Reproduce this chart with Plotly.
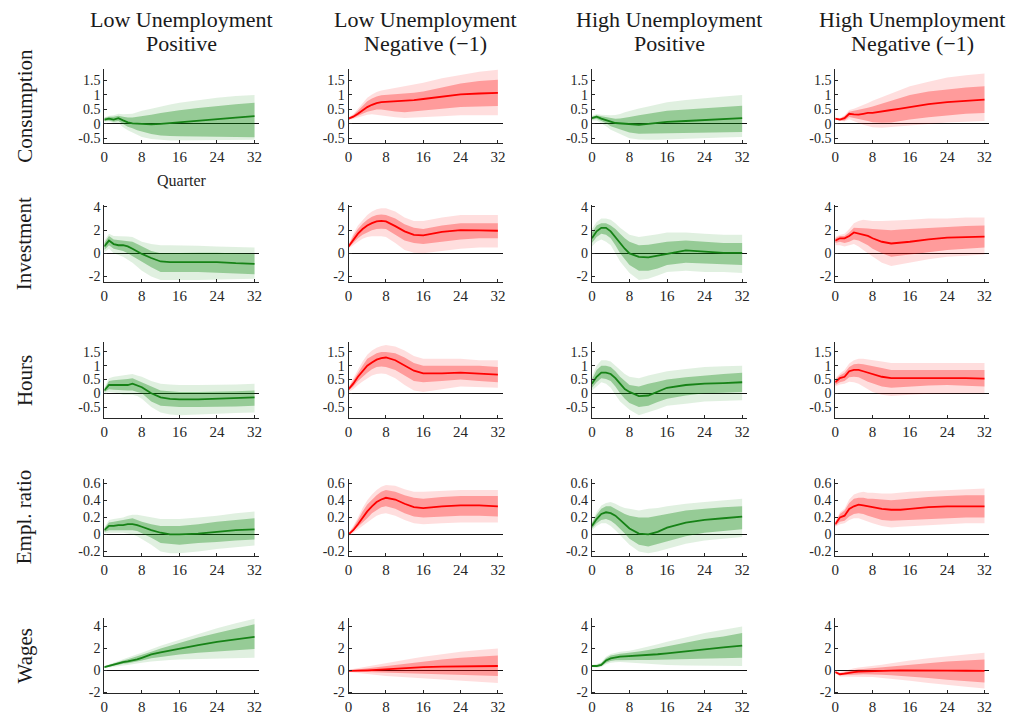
import plotly.graph_objects as go

# Impulse responses over a 32-quarter horizon: median, 68% and 90% bands
quarters = [0, 1, 2, 3, 4, 5, 6, 7, 8, 10, 12, 14, 16, 20, 24, 28, 32]

col_title_top = ["Low Unemployment", "Low Unemployment", "High Unemployment", "High Unemployment"]
col_title_bottom = ["Positive", "Negative (\u22121)", "Positive", "Negative (\u22121)"]
row_names = ["Consumption", "Investment", "Hours", "Empl. ratio", "Wages"]

x_ticks = [0, 8, 16, 24, 32]
y_ticks = [
    [-0.5, 0, 0.5, 1, 1.5],
    [-2, 0, 2, 4],
    [-0.5, 0, 0.5, 1, 1.5],
    [-0.2, 0, 0.2, 0.4, 0.6],
    [-2, 0, 2, 4],
]
y_tick_text = [
    ["-0.5", "0", "0.5", "1", "1.5"],
    ["-2", "0", "2", "4"],
    ["-0.5", "0", "0.5", "1", "1.5"],
    ["-0.2", "0", "0.2", "0.4", "0.6"],
    ["-2", "0", "2", "4"],
]
y_ranges = [[-0.65, 1.9], [-2.5, 4.2], [-0.9, 1.85], [-0.25, 0.65], [-2.1, 4.8]]

# each panel: [median, upper 68%, lower 68%, upper 90%, lower 90%]
cons_lp = [
    [0.15, 0.18, 0.15, 0.2, 0.12, 0.05, 0.02, 0.01, 0.0, -0.02, 0.0, 0.03, 0.05, 0.12, 0.17, 0.22, 0.27],
    [0.2, 0.25, 0.25, 0.28, 0.25, 0.22, 0.22, 0.24, 0.27, 0.32, 0.38, 0.43, 0.47, 0.55, 0.62, 0.68, 0.73],
    [0.1, 0.12, 0.07, 0.1, 0.0, -0.1, -0.15, -0.22, -0.28, -0.35, -0.4, -0.42, -0.43, -0.44, -0.45, -0.45, -0.46],
    [0.22, 0.28, 0.3, 0.35, 0.33, 0.33, 0.35, 0.4, 0.45, 0.52, 0.6, 0.67, 0.73, 0.82, 0.9, 0.96, 1.0],
    [0.07, 0.08, 0.03, 0.03, -0.12, -0.22, -0.3, -0.38, -0.45, -0.52, -0.55, -0.57, -0.58, -0.58, -0.57, -0.56, -0.55],
]
cons_ln = [
    [0.18, 0.25, 0.35, 0.48, 0.58, 0.66, 0.72, 0.75, 0.76, 0.77, 0.78, 0.82, 0.86, 0.95, 1.02, 1.05, 1.07],
    [0.21, 0.3, 0.45, 0.62, 0.78, 0.88, 0.95, 0.99, 1.0, 1.03, 1.05, 1.08, 1.12, 1.27, 1.4, 1.48, 1.53],
    [0.15, 0.2, 0.27, 0.35, 0.42, 0.47, 0.5, 0.5, 0.48, 0.43, 0.4, 0.42, 0.45, 0.52, 0.58, 0.61, 0.62],
    [0.23, 0.34, 0.52, 0.72, 0.9, 1.02, 1.1, 1.15, 1.18, 1.23, 1.28, 1.35, 1.42, 1.58, 1.7, 1.8, 1.87],
    [0.13, 0.17, 0.22, 0.27, 0.32, 0.33, 0.32, 0.3, 0.28, 0.23, 0.2, 0.2, 0.22, 0.26, 0.3, 0.3, 0.3],
]
cons_hp = [
    [0.2, 0.25, 0.18, 0.12, 0.08, 0.03, 0.02, 0.0, -0.02, -0.03, 0.0, 0.04, 0.07, 0.1, 0.13, 0.16, 0.2],
    [0.25, 0.3, 0.26, 0.23, 0.2, 0.18, 0.19, 0.21, 0.24, 0.3, 0.35, 0.4, 0.45, 0.5, 0.55, 0.59, 0.63],
    [0.15, 0.18, 0.1, 0.02, -0.08, -0.14, -0.2, -0.25, -0.3, -0.34, -0.35, -0.34, -0.33, -0.31, -0.3, -0.29, -0.28],
    [0.28, 0.34, 0.32, 0.3, 0.3, 0.31, 0.34, 0.4, 0.45, 0.53, 0.6, 0.68, 0.75, 0.83, 0.9, 0.95, 1.0],
    [0.12, 0.12, 0.03, -0.08, -0.2, -0.28, -0.36, -0.43, -0.5, -0.54, -0.55, -0.55, -0.55, -0.52, -0.5, -0.47, -0.45],
]
cons_hn = [
    [0.18, 0.15, 0.2, 0.35, 0.33, 0.32, 0.35, 0.38, 0.38, 0.42, 0.48, 0.53, 0.58, 0.68, 0.75, 0.8, 0.84],
    [0.2, 0.18, 0.26, 0.42, 0.45, 0.48, 0.52, 0.56, 0.6, 0.7, 0.8, 0.9, 1.0, 1.12, 1.2, 1.26, 1.3],
    [0.16, 0.12, 0.12, 0.24, 0.2, 0.16, 0.14, 0.1, 0.06, 0.04, 0.05, 0.1, 0.15, 0.23, 0.3, 0.35, 0.38],
    [0.22, 0.2, 0.3, 0.48, 0.52, 0.58, 0.65, 0.72, 0.8, 0.93, 1.05, 1.18, 1.3, 1.46, 1.6, 1.68, 1.74],
    [0.14, 0.1, 0.08, 0.16, 0.1, 0.03, -0.03, -0.08, -0.12, -0.13, -0.12, -0.08, -0.05, 0.0, 0.05, 0.08, 0.1],
]

inv_lp = [
    [0.6, 1.1, 0.8, 0.7, 0.7, 0.6, 0.4, 0.15, -0.05, -0.4, -0.7, -0.75, -0.75, -0.7, -0.75, -0.85, -0.9],
    [0.9, 1.5, 1.2, 1.15, 1.1, 1.05, 1.0, 0.8, 0.6, 0.2, 0.0, 0.02, 0.05, 0.05, 0.05, 0.0, -0.05],
    [0.3, 0.7, 0.4, 0.3, 0.2, 0.0, -0.2, -0.45, -0.7, -1.2, -1.6, -1.62, -1.6, -1.6, -1.65, -1.72, -1.8],
    [1.1, 1.7, 1.5, 1.5, 1.5, 1.45, 1.4, 1.2, 1.0, 0.8, 0.7, 0.7, 0.7, 0.65, 0.6, 0.55, 0.5],
    [0.1, 0.4, 0.0, -0.15, -0.3, -0.55, -0.8, -1.15, -1.5, -2.0, -2.3, -2.3, -2.3, -2.3, -2.3, -2.25, -2.2],
]
inv_ln = [
    [0.6, 1.2, 1.7, 2.1, 2.4, 2.6, 2.75, 2.8, 2.75, 2.35, 1.9, 1.6, 1.55, 1.85, 2.0, 1.98, 1.95],
    [0.7, 1.5, 2.1, 2.55, 2.9, 3.15, 3.3, 3.35, 3.3, 3.0, 2.5, 2.2, 2.1, 2.4, 2.6, 2.6, 2.6],
    [0.5, 0.9, 1.3, 1.6, 1.8, 2.0, 2.1, 2.12, 2.1, 1.6, 1.1, 0.9, 0.8, 1.0, 1.2, 1.3, 1.3],
    [0.8, 1.7, 2.4, 2.9, 3.3, 3.6, 3.8, 3.9, 3.9, 3.6, 3.1, 2.8, 2.8, 3.1, 3.3, 3.3, 3.3],
    [0.4, 0.7, 1.0, 1.25, 1.4, 1.48, 1.5, 1.48, 1.4, 0.9, 0.3, 0.05, 0.0, 0.2, 0.4, 0.5, 0.5],
]
inv_hp = [
    [1.3, 1.9, 2.2, 2.2, 1.9, 1.4, 0.8, 0.4, 0.0, -0.3, -0.35, -0.2, 0.0, 0.25, 0.15, 0.05, 0.05],
    [1.8, 2.4, 2.6, 2.6, 2.4, 2.1, 1.7, 1.3, 1.0, 0.7, 0.75, 0.9, 1.0, 1.1, 1.0, 0.9, 0.9],
    [0.9, 1.4, 1.7, 1.6, 1.3, 0.7, 0.0, -0.5, -1.0, -1.5, -1.5, -1.3, -1.0, -0.8, -0.9, -0.95, -1.0],
    [2.1, 2.7, 3.0, 3.0, 2.9, 2.6, 2.2, 1.9, 1.6, 1.4, 1.5, 1.65, 1.8, 1.8, 1.7, 1.6, 1.6],
    [0.6, 1.0, 1.2, 1.0, 0.7, 0.0, -0.7, -1.2, -1.7, -2.3, -2.2, -1.9, -1.6, -1.5, -1.6, -1.6, -1.7],
]
inv_hn = [
    [1.1, 1.3, 1.3, 1.5, 1.8, 1.7, 1.6, 1.5, 1.3, 1.0, 0.85, 0.9, 1.0, 1.2, 1.35, 1.4, 1.45],
    [1.3, 1.5, 1.5, 1.8, 2.2, 2.2, 2.2, 2.15, 2.1, 2.05, 2.0, 2.05, 2.1, 2.2, 2.3, 2.35, 2.4],
    [0.9, 1.0, 0.9, 1.0, 1.2, 1.1, 0.9, 0.7, 0.4, 0.0, -0.3, -0.2, -0.1, 0.1, 0.3, 0.4, 0.5],
    [1.4, 1.6, 1.7, 2.1, 2.6, 2.8, 2.9, 2.85, 2.8, 2.8, 2.8, 2.85, 2.9, 3.0, 3.0, 3.1, 3.1],
    [0.7, 0.7, 0.6, 0.7, 0.8, 0.6, 0.3, 0.0, -0.3, -0.8, -1.1, -1.0, -0.8, -0.5, -0.3, -0.2, -0.1],
]

hrs_lp = [
    [0.1, 0.3, 0.3, 0.3, 0.3, 0.3, 0.35, 0.28, 0.22, 0.0, -0.15, -0.2, -0.22, -0.22, -0.2, -0.18, -0.15],
    [0.15, 0.45, 0.47, 0.48, 0.5, 0.52, 0.55, 0.48, 0.4, 0.25, 0.1, 0.07, 0.05, 0.05, 0.05, 0.07, 0.1],
    [0.05, 0.15, 0.13, 0.12, 0.1, 0.1, 0.1, 0.05, 0.0, -0.3, -0.45, -0.48, -0.5, -0.5, -0.5, -0.48, -0.45],
    [0.2, 0.55, 0.6, 0.62, 0.65, 0.68, 0.7, 0.65, 0.6, 0.45, 0.35, 0.32, 0.3, 0.3, 0.3, 0.32, 0.35],
    [0.0, 0.05, 0.02, 0.0, -0.05, -0.05, -0.05, -0.1, -0.2, -0.5, -0.7, -0.77, -0.8, -0.78, -0.75, -0.72, -0.7],
]
hrs_ln = [
    [0.15, 0.35, 0.6, 0.8, 1.0, 1.12, 1.22, 1.28, 1.3, 1.2, 1.0, 0.82, 0.72, 0.72, 0.75, 0.72, 0.68],
    [0.2, 0.48, 0.75, 1.0, 1.25, 1.35, 1.45, 1.5, 1.5, 1.45, 1.3, 1.1, 1.0, 1.0, 1.0, 1.0, 0.95],
    [0.1, 0.25, 0.45, 0.6, 0.75, 0.87, 0.95, 0.97, 0.95, 0.85, 0.65, 0.45, 0.4, 0.45, 0.5, 0.45, 0.4],
    [0.25, 0.55, 0.9, 1.15, 1.4, 1.55, 1.65, 1.72, 1.75, 1.7, 1.55, 1.35, 1.25, 1.25, 1.25, 1.2, 1.2],
    [0.05, 0.15, 0.3, 0.43, 0.55, 0.65, 0.7, 0.72, 0.7, 0.55, 0.3, 0.1, 0.05, 0.15, 0.25, 0.22, 0.2],
]
hrs_hp = [
    [0.35, 0.6, 0.75, 0.75, 0.7, 0.55, 0.35, 0.15, 0.05, -0.1, -0.08, 0.05, 0.2, 0.3, 0.35, 0.37, 0.4],
    [0.5, 0.85, 1.0, 1.0, 0.95, 0.8, 0.6, 0.45, 0.3, 0.25, 0.35, 0.42, 0.5, 0.58, 0.65, 0.7, 0.75],
    [0.2, 0.4, 0.55, 0.52, 0.45, 0.25, 0.0, -0.2, -0.35, -0.5, -0.45, -0.32, -0.2, -0.08, 0.0, 0.02, 0.05],
    [0.6, 1.0, 1.2, 1.2, 1.15, 1.0, 0.85, 0.7, 0.6, 0.55, 0.65, 0.72, 0.8, 0.88, 0.95, 0.98, 1.0],
    [0.1, 0.25, 0.4, 0.35, 0.2, -0.05, -0.3, -0.45, -0.6, -0.8, -0.7, -0.58, -0.45, -0.38, -0.3, -0.28, -0.25],
]
hrs_hn = [
    [0.4, 0.55, 0.6, 0.8, 0.85, 0.85, 0.8, 0.75, 0.7, 0.6, 0.55, 0.55, 0.55, 0.57, 0.57, 0.55, 0.53],
    [0.5, 0.65, 0.75, 0.95, 1.05, 1.07, 1.05, 1.02, 1.0, 0.92, 0.85, 0.85, 0.85, 0.85, 0.85, 0.85, 0.85],
    [0.3, 0.4, 0.45, 0.58, 0.6, 0.58, 0.5, 0.42, 0.35, 0.25, 0.2, 0.22, 0.25, 0.28, 0.3, 0.28, 0.25],
    [0.55, 0.72, 0.85, 1.08, 1.2, 1.25, 1.25, 1.22, 1.2, 1.15, 1.1, 1.1, 1.1, 1.1, 1.1, 1.1, 1.1],
    [0.25, 0.32, 0.35, 0.42, 0.4, 0.35, 0.25, 0.15, 0.05, -0.05, -0.1, -0.08, -0.05, -0.02, 0.0, 0.0, 0.0],
]

emp_lp = [
    [0.05, 0.1, 0.1, 0.11, 0.11, 0.12, 0.12, 0.11, 0.09, 0.05, 0.02, 0.0, 0.0, 0.01, 0.03, 0.05, 0.06],
    [0.07, 0.14, 0.15, 0.16, 0.17, 0.18, 0.19, 0.17, 0.15, 0.12, 0.1, 0.1, 0.1, 0.12, 0.15, 0.17, 0.19],
    [0.03, 0.05, 0.05, 0.05, 0.05, 0.05, 0.05, 0.04, 0.02, -0.04, -0.1, -0.11, -0.12, -0.1, -0.09, -0.07, -0.06],
    [0.08, 0.17, 0.18, 0.19, 0.2, 0.22, 0.23, 0.23, 0.22, 0.2, 0.18, 0.18, 0.18, 0.2, 0.22, 0.25, 0.27],
    [0.01, 0.02, 0.02, 0.02, 0.02, 0.01, 0.0, -0.02, -0.05, -0.12, -0.2, -0.22, -0.22, -0.2, -0.17, -0.15, -0.13],
]
emp_ln = [
    [0.0, 0.05, 0.12, 0.2, 0.27, 0.33, 0.38, 0.41, 0.43, 0.41, 0.36, 0.32, 0.31, 0.33, 0.34, 0.34, 0.33],
    [0.01, 0.08, 0.17, 0.27, 0.35, 0.41, 0.46, 0.5, 0.52, 0.5, 0.46, 0.43, 0.42, 0.44, 0.45, 0.45, 0.45],
    [-0.01, 0.03, 0.08, 0.14, 0.19, 0.25, 0.29, 0.32, 0.33, 0.3, 0.25, 0.21, 0.2, 0.21, 0.22, 0.22, 0.21],
    [0.02, 0.1, 0.2, 0.31, 0.4, 0.47, 0.52, 0.56, 0.58, 0.57, 0.53, 0.5, 0.5, 0.51, 0.52, 0.52, 0.52],
    [-0.02, 0.01, 0.05, 0.1, 0.14, 0.18, 0.22, 0.24, 0.25, 0.22, 0.17, 0.13, 0.12, 0.13, 0.14, 0.14, 0.14],
]
emp_hp = [
    [0.1, 0.18, 0.24, 0.26, 0.25, 0.22, 0.17, 0.12, 0.07, 0.01, 0.0, 0.03, 0.08, 0.14, 0.17, 0.19, 0.21],
    [0.13, 0.23, 0.3, 0.33, 0.33, 0.3, 0.27, 0.24, 0.22, 0.2, 0.2, 0.22, 0.24, 0.28, 0.3, 0.32, 0.33],
    [0.07, 0.13, 0.17, 0.18, 0.16, 0.12, 0.07, 0.01, -0.05, -0.12, -0.14, -0.11, -0.08, -0.02, 0.02, 0.04, 0.06],
    [0.15, 0.26, 0.34, 0.37, 0.38, 0.36, 0.33, 0.31, 0.3, 0.28, 0.3, 0.31, 0.33, 0.36, 0.38, 0.4, 0.42],
    [0.05, 0.1, 0.13, 0.13, 0.1, 0.05, 0.0, -0.06, -0.12, -0.2, -0.22, -0.2, -0.17, -0.11, -0.07, -0.05, -0.03],
]
emp_hn = [
    [0.12, 0.2, 0.22, 0.3, 0.33, 0.35, 0.34, 0.33, 0.32, 0.3, 0.29, 0.29, 0.3, 0.32, 0.33, 0.33, 0.33],
    [0.14, 0.24, 0.28, 0.37, 0.42, 0.43, 0.43, 0.42, 0.42, 0.41, 0.4, 0.41, 0.42, 0.44, 0.45, 0.46, 0.46],
    [0.1, 0.15, 0.16, 0.21, 0.24, 0.25, 0.24, 0.22, 0.2, 0.17, 0.16, 0.16, 0.17, 0.18, 0.19, 0.2, 0.2],
    [0.15, 0.26, 0.3, 0.41, 0.47, 0.49, 0.5, 0.49, 0.49, 0.48, 0.48, 0.49, 0.5, 0.51, 0.52, 0.53, 0.54],
    [0.09, 0.12, 0.13, 0.17, 0.19, 0.19, 0.17, 0.15, 0.13, 0.1, 0.08, 0.09, 0.1, 0.11, 0.12, 0.13, 0.13],
]

wag_lp = [
    [0.3, 0.42, 0.55, 0.65, 0.75, 0.82, 0.9, 1.0, 1.15, 1.45, 1.65, 1.82, 2.0, 2.3, 2.6, 2.8, 3.05],
    [0.35, 0.5, 0.65, 0.78, 0.9, 1.02, 1.15, 1.28, 1.4, 1.7, 2.0, 2.25, 2.5, 3.0, 3.4, 3.8, 4.2],
    [0.25, 0.35, 0.45, 0.52, 0.6, 0.66, 0.72, 0.8, 0.9, 1.1, 1.25, 1.35, 1.45, 1.6, 1.75, 1.85, 1.95],
    [0.4, 0.56, 0.73, 0.9, 1.05, 1.18, 1.32, 1.47, 1.6, 1.95, 2.25, 2.52, 2.8, 3.35, 3.85, 4.3, 4.7],
    [0.2, 0.28, 0.35, 0.4, 0.45, 0.5, 0.55, 0.62, 0.7, 0.82, 0.9, 0.95, 1.0, 1.05, 1.1, 1.12, 1.15],
]
wag_ln = [
    [-0.05, -0.05, -0.03, -0.02, 0.0, 0.02, 0.05, 0.08, 0.1, 0.15, 0.2, 0.25, 0.3, 0.35, 0.38, 0.4, 0.4],
    [0.0, 0.05, 0.1, 0.15, 0.2, 0.25, 0.3, 0.35, 0.4, 0.52, 0.65, 0.75, 0.85, 1.0, 1.15, 1.25, 1.35],
    [-0.1, -0.13, -0.16, -0.18, -0.2, -0.21, -0.22, -0.24, -0.25, -0.28, -0.3, -0.33, -0.35, -0.4, -0.4, -0.45, -0.5],
    [0.05, 0.12, 0.2, 0.28, 0.35, 0.42, 0.5, 0.58, 0.65, 0.8, 0.95, 1.1, 1.25, 1.5, 1.7, 1.85, 2.0],
    [-0.15, -0.2, -0.26, -0.3, -0.35, -0.38, -0.42, -0.46, -0.5, -0.58, -0.65, -0.7, -0.75, -0.85, -0.95, -1.05, -1.15],
]
wag_hp = [
    [0.4, 0.4, 0.5, 0.9, 1.1, 1.2, 1.25, 1.28, 1.3, 1.35, 1.4, 1.47, 1.55, 1.75, 1.95, 2.1, 2.25],
    [0.45, 0.5, 0.65, 1.1, 1.35, 1.45, 1.52, 1.56, 1.6, 1.72, 1.85, 2.02, 2.2, 2.55, 2.85, 3.1, 3.4],
    [0.35, 0.32, 0.4, 0.7, 0.85, 0.92, 0.95, 0.95, 0.95, 0.95, 0.95, 0.95, 0.95, 1.0, 1.05, 1.1, 1.15],
    [0.5, 0.58, 0.75, 1.25, 1.5, 1.62, 1.7, 1.75, 1.8, 1.98, 2.15, 2.38, 2.6, 3.0, 3.4, 3.7, 4.0],
    [0.3, 0.25, 0.3, 0.55, 0.7, 0.75, 0.77, 0.76, 0.75, 0.68, 0.6, 0.55, 0.5, 0.45, 0.4, 0.4, 0.4],
]
wag_hn = [
    [-0.15, -0.35, -0.3, -0.2, -0.15, -0.12, -0.1, -0.07, -0.05, -0.03, -0.02, -0.01, 0.0, 0.0, -0.02, -0.03, -0.05],
    [-0.1, -0.25, -0.15, -0.05, 0.05, 0.1, 0.13, 0.17, 0.2, 0.28, 0.35, 0.42, 0.5, 0.65, 0.8, 0.9, 1.0],
    [-0.2, -0.45, -0.45, -0.4, -0.4, -0.38, -0.36, -0.35, -0.35, -0.4, -0.45, -0.5, -0.55, -0.7, -0.85, -1.0, -1.1],
    [-0.05, -0.15, -0.05, 0.08, 0.2, 0.26, 0.3, 0.35, 0.4, 0.52, 0.65, 0.78, 0.9, 1.1, 1.3, 1.45, 1.6],
    [-0.25, -0.55, -0.6, -0.6, -0.6, -0.6, -0.6, -0.6, -0.6, -0.68, -0.75, -0.85, -0.95, -1.15, -1.35, -1.5, -1.65],
]

panels = [
    [cons_lp, cons_ln, cons_hp, cons_hn],
    [inv_lp, inv_ln, inv_hp, inv_hn],
    [hrs_lp, hrs_ln, hrs_hp, hrs_hn],
    [emp_lp, emp_ln, emp_hp, emp_hn],
    [wag_lp, wag_ln, wag_hp, wag_hn],
]

# --- styling -------------------------------------------------------------
W, H = 1016, 727
FONT = "Liberation Serif, Times New Roman, serif"
INK = "#262626"
GREEN = dict(line="rgb(22,130,22)", inner="rgba(0,128,0,0.33)", outer="rgba(0,128,0,0.12)")
RED = dict(line="rgb(255,0,0)", inner="rgba(255,0,0,0.30)", outer="rgba(255,0,0,0.13)")
col_styles = [GREEN, RED, GREEN, RED]

# axis boxes in pixels (left, right) per column and (top, bottom) per row
col_px = [(101, 257), (347, 502), (592, 748), (837, 992)]
row_px = [(65, 140), (203, 282), (343, 420), (482, 560), (623, 700)]

fig = go.Figure()
layout = {}


def band(xs, hi, lo, color, xa, ya):
    return go.Scatter(
        x=list(xs) + list(xs)[::-1],
        y=list(hi) + list(lo)[::-1],
        fill="toself", fillcolor=color, mode="lines",
        line=dict(width=0), hoverinfo="skip", showlegend=False,
        xaxis=xa, yaxis=ya,
    )


for r in range(5):
    for c in range(4):
        k = r * 4 + c + 1
        xa = "x" if k == 1 else f"x{k}"
        ya = "y" if k == 1 else f"y{k}"
        med, hi68, lo68, hi90, lo90 = panels[r][c]
        st = col_styles[c]
        fig.add_trace(band(quarters, hi90, lo90, st["outer"], xa, ya))
        fig.add_trace(band(quarters, hi68, lo68, st["inner"], xa, ya))
        fig.add_trace(go.Scatter(
            x=quarters, y=med, mode="lines",
            line=dict(color=st["line"], width=1.8),
            showlegend=False, xaxis=xa, yaxis=ya,
        ))

        x0, x1 = col_px[c]
        y0, y1 = row_px[r]
        axis_common = dict(
            showline=True, linecolor=INK, linewidth=1, showgrid=False,
            ticks="inside", ticklen=3, tickcolor=INK, tickwidth=1,
            fixedrange=True,
        )
        layout["xaxis" if k == 1 else f"xaxis{k}"] = dict(
            domain=[x0 / W, x1 / W], range=[0, 33],
            tickvals=x_ticks, ticktext=[str(t) for t in x_ticks],
            tickfont=dict(family=FONT, size=15, color=INK),
            anchor=ya, zeroline=False, **axis_common,
        )
        layout["yaxis" if k == 1 else f"yaxis{k}"] = dict(
            domain=[1 - y1 / H, 1 - y0 / H], range=y_ranges[r],
            tickvals=y_ticks[r], ticktext=y_tick_text[r],
            tickfont=dict(family=FONT, size=14, color=INK),
            anchor=xa, zeroline=True, zerolinecolor="#111111", zerolinewidth=1.3,
            **axis_common,
        )

annotations = []
title_font = dict(family=FONT, size=22, color="#1a1a1a")
for c in range(4):
    cx = (col_px[c][0] + col_px[c][1]) / 2 / W
    annotations.append(dict(x=cx, y=1 - 15 / H, xref="paper", yref="paper",
                            text=col_title_top[c], showarrow=False, font=title_font,
                            xanchor="center", yanchor="middle"))
    annotations.append(dict(x=cx, y=1 - 39 / H, xref="paper", yref="paper",
                            text=col_title_bottom[c], showarrow=False, font=title_font,
                            xanchor="center", yanchor="middle"))
for r in range(5):
    cy = 1 - (row_px[r][0] + row_px[r][1]) / 2 / H
    annotations.append(dict(x=21 / W, y=cy, xref="paper", yref="paper",
                            text=row_names[r], showarrow=False, textangle=-90,
                            font=dict(family=FONT, size=21, color="#1a1a1a"),
                            xanchor="center", yanchor="middle"))
annotations.append(dict(x=(col_px[0][0] + col_px[0][1]) / 2 / W, y=1 - 178 / H,
                        xref="paper", yref="paper", text="Quarter", showarrow=False,
                        font=dict(family=FONT, size=16, color=INK),
                        xanchor="center", yanchor="middle"))

fig.update_layout(
    width=W, height=H, margin=dict(l=0, r=0, t=0, b=0),
    paper_bgcolor="white", plot_bgcolor="white",
    font=dict(family=FONT),
    showlegend=False, annotations=annotations, **layout,
)

fig.write_html("out.html", config={"displayModeBar": False})
